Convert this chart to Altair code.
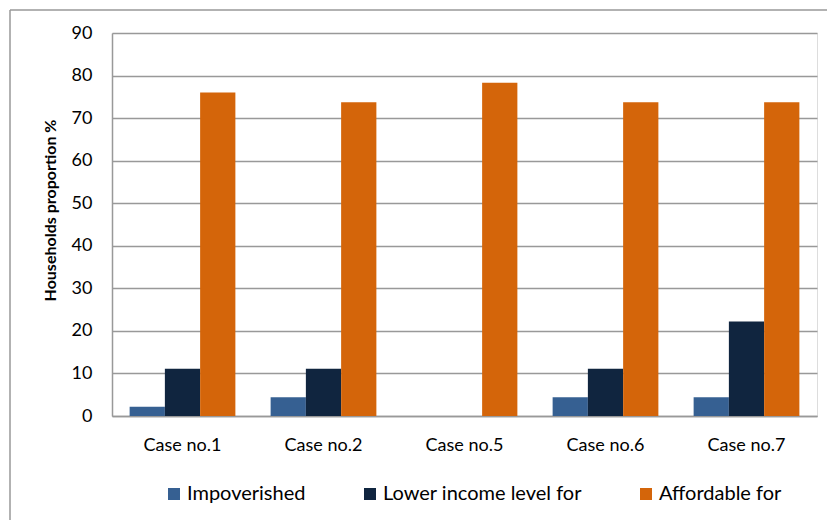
import altair as alt
import pandas as pd

cases = ["Case no.1", "Case no.2", "Case no.5", "Case no.6", "Case no.7"]
series = ["Impoverished", "Lower income level for", "Affordable for"]
impoverished = [2.2, 4.4, 0.0, 4.4, 4.4]
lower_income = [11.1, 11.1, 0.0, 11.1, 22.2]
affordable = [76.0, 73.7, 78.3, 73.7, 73.7]
colors = ["#366092", "#10253F", "#D4650A"]
y_ticks = [0, 10, 20, 30, 40, 50, 60, 70, 80, 90]

rows = []
for name, values in zip(series, [impoverished, lower_income, affordable]):
    for case, v in zip(cases, values):
        rows.append({"case": case, "series": name, "value": v})
df = pd.DataFrame(rows)

FONT = "Lato"
W, H = 705, 383
LEFT, TOP = 112, 33

bars = alt.Chart(df).mark_bar().encode(
    x=alt.X("case:N", sort=cases, title=None,
            scale=alt.Scale(paddingInner=0.25, paddingOuter=0.125),
            axis=alt.Axis(labelAngle=0, ticks=False, labelPadding=20,
                          labelFontSize=18, labelFont=FONT, labelColor="#000",
                          domainColor="#999", domainWidth=1.5, grid=False)),
    xOffset=alt.XOffset("series:N", sort=series),
    y=alt.Y("value:Q", title="Households proportion %",
            scale=alt.Scale(domain=[0, 90], nice=False),
            axis=alt.Axis(values=y_ticks, ticks=False, labelPadding=20,
                          labelFontSize=18, labelFont=FONT, labelColor="#000",
                          domainColor="#999", domainWidth=1.5,
                          gridColor="#999", gridWidth=1.5,
                          titleFont=FONT, titleFontSize=16, titleFontWeight="bold",
                          titleColor="#000", titleAngle=-90, titleX=-62, titleY=177,
                          titleAlign="center", titleBaseline="middle")),
    color=alt.Color("series:N", sort=series, title=None,
                    scale=alt.Scale(domain=series, range=colors),
                    legend=alt.Legend(orient="none", direction="horizontal",
                                      legendX=52, legendY=451,
                                      symbolType="square", symbolSize=144,
                                      symbolStrokeWidth=0, symbolOpacity=1,
                                      labelFont=FONT, labelFontSize=20,
                                      labelColor="#000", labelLimit=400,
                                      labelOffset=3, columnPadding=54)),
)

# outer chart frame
frame_top = alt.Chart(pd.DataFrame({"k": [0]})).mark_rule(
    color="#999", strokeWidth=1.5).encode(
    x=alt.value(10 - LEFT), x2=alt.value(830 - LEFT), y=alt.value(10 - TOP))
frame_left = alt.Chart(pd.DataFrame({"k": [0]})).mark_rule(
    color="#999", strokeWidth=1.5).encode(
    x=alt.value(10 - LEFT), y=alt.value(10 - TOP), y2=alt.value(530 - TOP))

chart = alt.layer(bars, frame_top, frame_left).properties(
    width=W, height=H,
    autosize=alt.AutoSizeParams(type="none"),
    padding={"left": LEFT, "top": TOP, "right": 827 - LEFT - W, "bottom": 520 - TOP - H},
).configure_view(stroke=None).configure(background="white")

chart.save("out.html", embed_options={"renderer": "svg", "actions": False})
